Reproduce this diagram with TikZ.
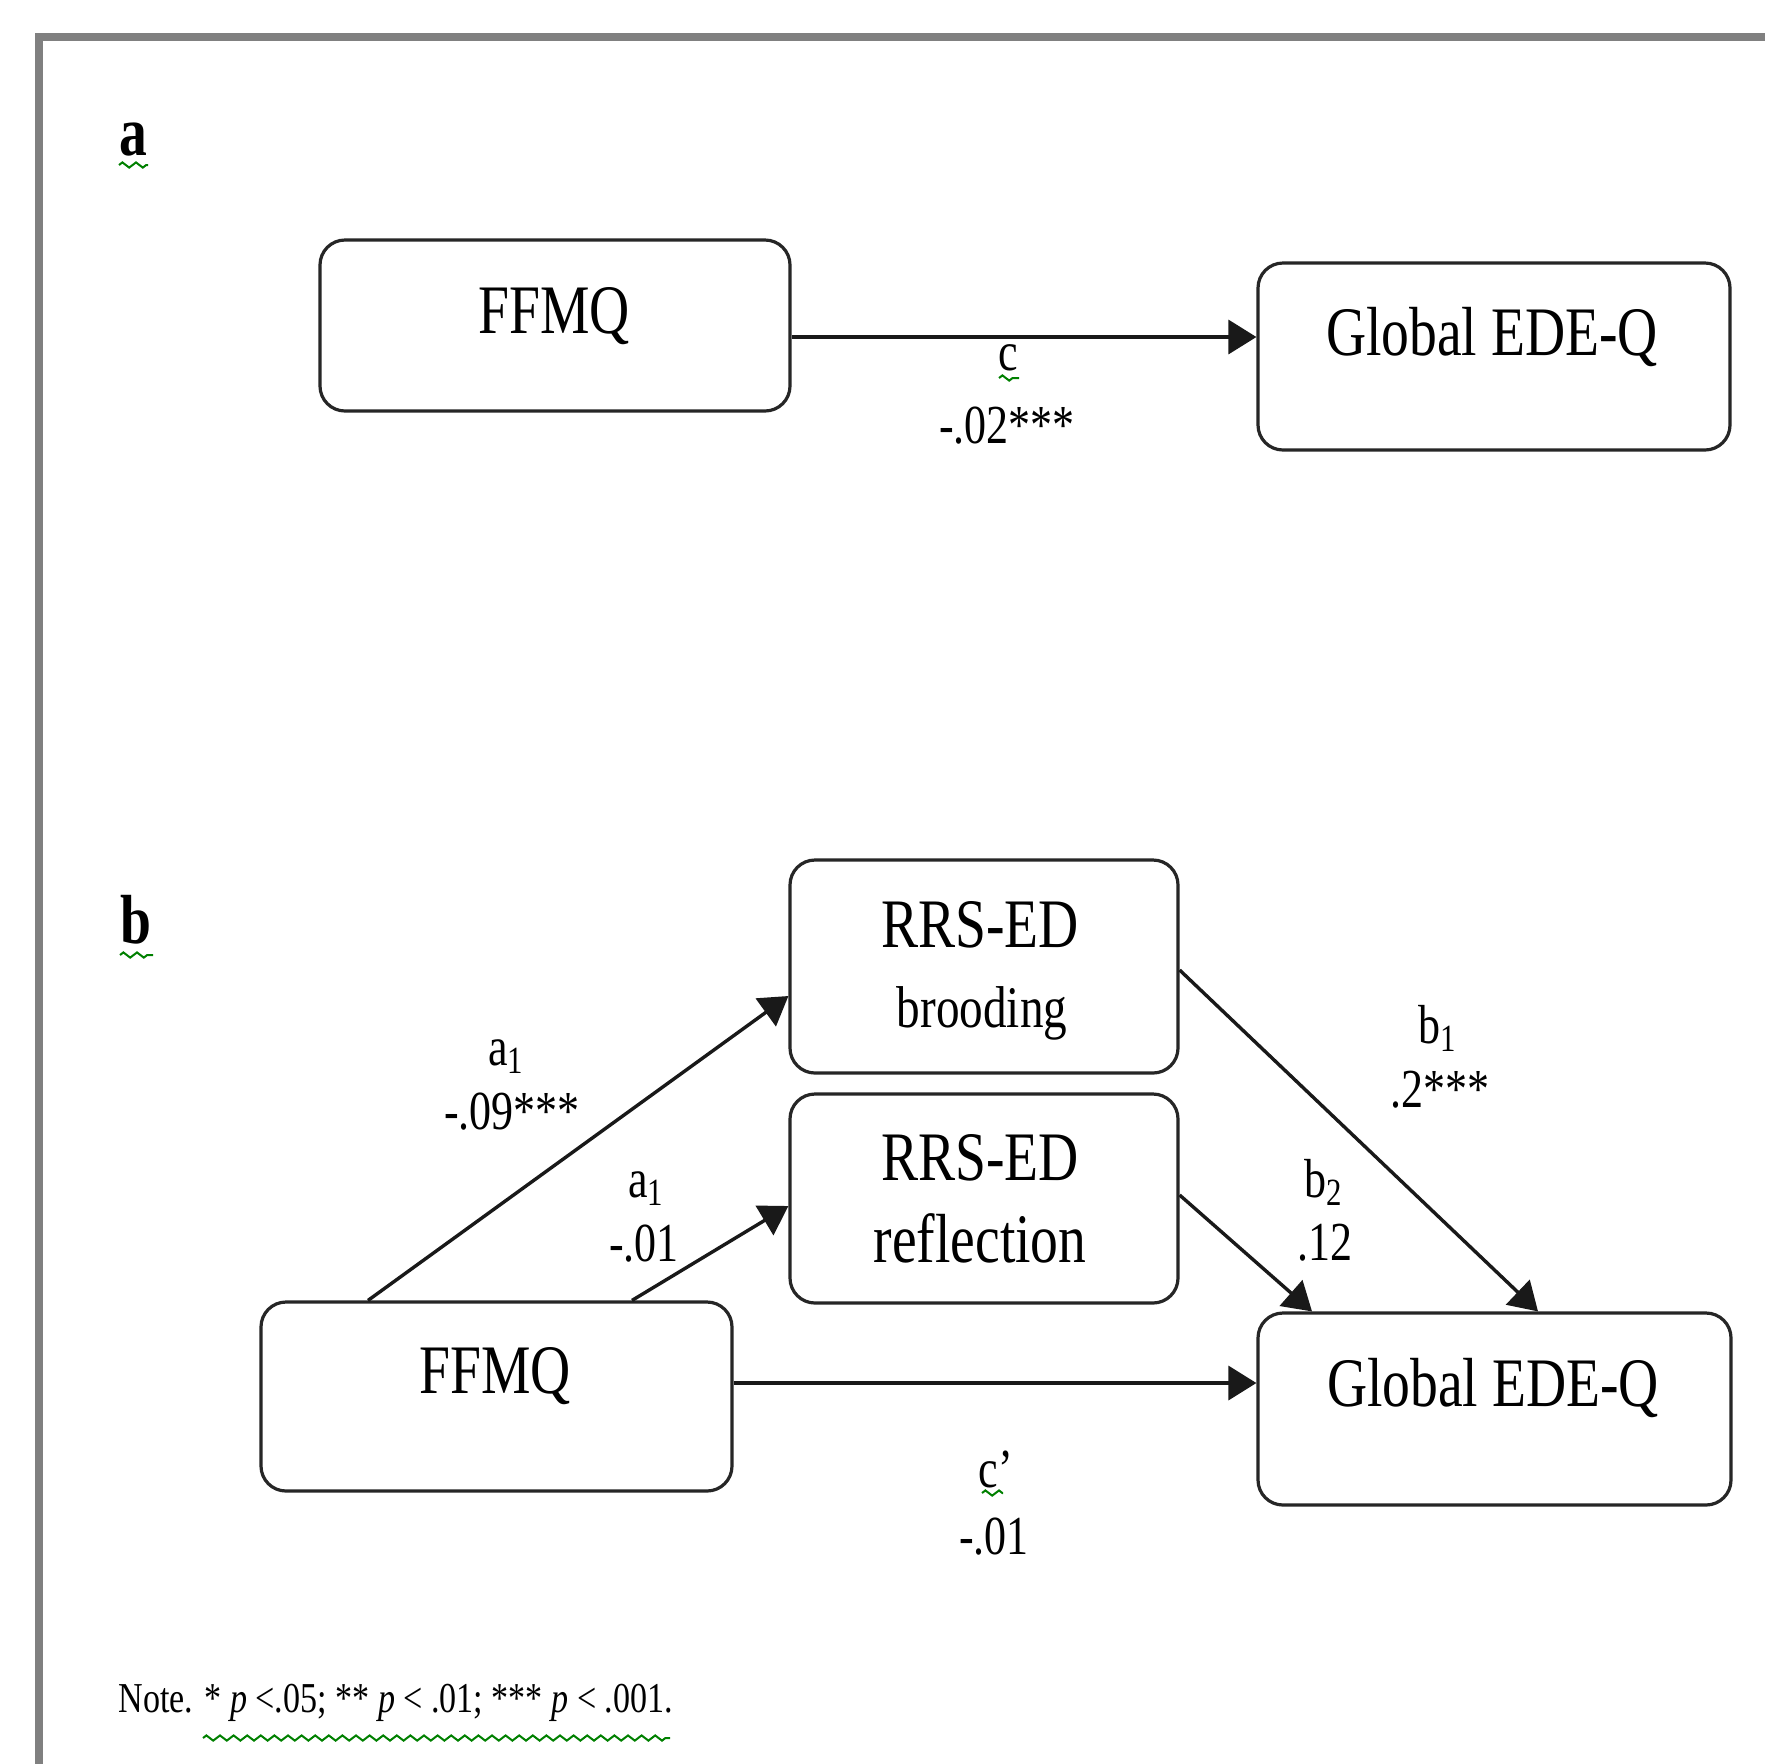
\documentclass[tikz,border=0pt]{standalone}
\usepackage{fontspec}
\setmainfont{Liberation Serif}[FakeStretch=0.8]
\usetikzlibrary{arrows.meta,decorations.pathmorphing}
\definecolor{spell}{RGB}{0,128,0}
\definecolor{framegray}{RGB}{128,128,128}
\tikzset{
  box/.style={draw=black!85, line width=1.6pt, rounded corners=12.5pt, fill=white, inner sep=0pt},
  boxtext/.style={font=\fontsize{34.75}{42}\selectfont, inner sep=0pt, anchor=base},
  smallboxtext/.style={font=\fontsize{29.5}{35}\selectfont, inner sep=0pt, anchor=base},
  lab/.style={font=\fontsize{27.5}{33}\selectfont, inner sep=0pt, anchor=base},
  panel/.style={font=\bfseries\fontsize{34.75}{42}\selectfont, inner sep=0pt, anchor=base},
  notetext/.style={font=\fontsize{21.3}{26}\selectfont, inner sep=0pt, anchor=base west},
  conn/.style={draw=black!90, line width=1.7pt, -{Triangle[length=14pt,width=17pt]}},
  squig/.style={draw=spell, line width=1pt, decorate, decoration={zigzag, amplitude=1.3pt, segment length=6.8pt}},
  frameline/.style={draw=framegray, line width=3.6pt}
}
\begin{document}
\begin{tikzpicture}[x=0.5pt, y=-0.5pt]
\useasboundingbox (0,0) rectangle (1765,1763);
\clip (0,0) rectangle (1765,1763);
\fill[white] (0,0) rectangle (1765,1763);
% frame
\draw[frameline] (39,1800) -- (39,37) -- (1800,37);
% panel labels
\node[panel] (pa) at (133,155) {a};
\node[panel] (pb) at (136,943) {b};
\coordinate (sqa1) at (119,165); \coordinate (sqa2) at (148,165);
\coordinate (sqb1) at (120,955); \coordinate (sqb2) at (153,955);
\draw[squig] (sqa1) -- (sqa2);
\draw[squig] (sqb1) -- (sqb2);
% ---------- panel a ----------
\node[box, minimum width=235pt, minimum height=85.5pt] (ffmqA) at (555,325.5) {};
\node[boxtext] (ffmqAt) at (554,333) {FFMQ};
\node[box, minimum width=236pt, minimum height=93.5pt] (globalA) at (1494,356.5) {};
\node[boxtext] (globalAt) at (1492,355) {Global EDE-Q};
\draw[conn] (ffmqA.east |- 0,337) -- (globalA.west |- 0,337);
\node[lab] (cA) at (1008,370) {c};
\coordinate (sqc1) at (999,378); \coordinate (sqc2) at (1019,378);
\draw[squig] (sqc1) -- (sqc2);
\node[lab] (cAv) at (1007,443) {-.02***};
% ---------- panel b ----------
\node[box, minimum width=194pt, minimum height=106.5pt] (brood) at (984,966.5) {};
\node[boxtext] (broodt1) at (980,947) {RRS-ED};
\node[smallboxtext] (broodt2) at (982,1027) {brooding};
\node[box, minimum width=194pt, minimum height=104.5pt] (reflect) at (984,1198.5) {};
\node[boxtext] (reflt1) at (980,1180) {RRS-ED};
\node[boxtext] (reflt2) at (980,1262) {reflection};
\node[box, minimum width=235.5pt, minimum height=94.5pt] (ffmqB) at (496.5,1396.5) {};
\node[boxtext] (ffmqBt) at (495,1393) {FFMQ};
\node[box, minimum width=236.5pt, minimum height=96pt] (globalB) at (1494.5,1409) {};
\node[boxtext] (globalBt) at (1493,1406) {Global EDE-Q};
% connectors
\draw[conn] (368,0 |- ffmqB.north) -- (brood.west |- 0,996);
\draw[conn] (632,0 |- ffmqB.north) -- (reflect.west |- 0,1206);
\draw[conn] (brood.east |- 0,970) -- (1538,0 |- globalB.north);
\draw[conn] (reflect.east |- 0,1195) -- (1312,0 |- globalB.north);
\draw[conn] (ffmqB.east |- 0,1383) -- (globalB.west |- 0,1383);
% labels
\node[lab] (a1u) at (506,1065) {a\textsubscript{1}};
\node[lab] (a1uv) at (512,1129) {-.09***};
\node[lab] (a1l) at (646,1197) {a\textsubscript{1}};
\node[lab] (a1lv) at (644,1261) {-.01};
\node[lab] (b1) at (1438,1043) {b\textsubscript{1}};
\node[lab] (b1v) at (1440,1107) {.2***};
\node[lab] (b2) at (1324,1197) {b\textsubscript{2}};
\node[lab] (b2v) at (1325,1260) {.12};
\node[lab] (cp) at (996,1487) {c’};
\coordinate (sqd1) at (982,1493); \coordinate (sqd2) at (1003,1493);
\draw[squig] (sqd1) -- (sqd2);
\node[lab] (cpv) at (994,1554) {-.01};
% note
\node[notetext] (note) at (118,1712) {Note. * \textit{p} <.05; ** \textit{p} < .01; *** \textit{p} < .001.};
\coordinate (sqn1) at (203,1738); \coordinate (sqn2) at (670,1738);
\draw[squig] (sqn1) -- (sqn2);
\end{tikzpicture}
\end{document}
